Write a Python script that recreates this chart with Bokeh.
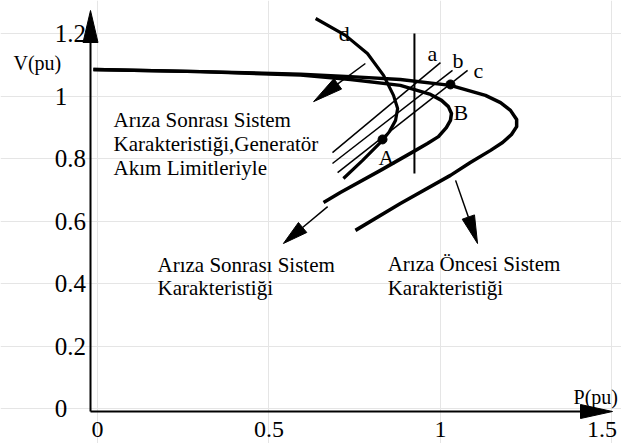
from bokeh.plotting import figure
from bokeh.models import Range1d
from bokeh.core.properties import value
from bokeh.embed import file_html
from bokeh.resources import INLINE
import numpy as np

# ---------------- data (P in pu, V in pu) ----------------
x_ticks = [0, 0.5, 1, 1.5]
x_tick_labels = ["0", "0.5", "1", "1.5"]
y_ticks = [0, 0.2, 0.4, 0.6, 0.8, 1.0, 1.2]
y_tick_labels = ["0", "0.2", "0.4", "0.6", "0.8", "1", "1.2"]

# pre-fault system characteristic (outer nose curve)
pre_p = [-0.012, 0.300, 0.592, 0.738, 0.883, 1.029, 1.131, 1.175, 1.204, 1.222,
         1.222, 1.207, 1.181, 1.146, 1.087, 1.029, 0.883, 0.752]
pre_v = [1.085, 1.078, 1.070, 1.062, 1.053, 1.034, 1.002, 0.979, 0.954, 0.925,
         0.902, 0.877, 0.851, 0.826, 0.787, 0.746, 0.656, 0.570]

# post-fault system characteristic (middle nose curve)
post_p = [-0.012, 0.300, 0.592, 0.738, 0.883, 0.971, 1.003, 1.023, 1.032, 1.029,
          1.017, 0.994, 0.962, 0.921, 0.825, 0.708, 0.659]
post_v = [1.085, 1.078, 1.067, 1.053, 1.034, 1.005, 0.986, 0.966, 0.944, 0.922,
          0.899, 0.870, 0.848, 0.822, 0.762, 0.691, 0.659]

# curve d
d_p = [0.636, 0.723, 0.787, 0.834, 0.863, 0.875, 0.869, 0.851, 0.831, 0.773, 0.717]
d_v = [1.248, 1.194, 1.136, 1.066, 1.002, 0.960, 0.922, 0.886, 0.858, 0.794, 0.736]

# load lines a, b, c (start P, start V, end P, end V)
load_names = ["a", "b", "c"]
load_p0 = [1.000, 1.035, 1.079]
load_v0 = [1.107, 1.082, 1.082]
load_p1 = [0.685, 0.685, 0.700]
load_v1 = [0.819, 0.784, 0.755]

# vertical line (constant P)
vert_p = 0.924
vert_v = [1.200, 0.752]

# operating points
pt_names = ["A", "B"]
pt_p = [0.831, 1.029]
pt_v = [0.861, 1.037]

# ---------------- figure ----------------
X0, X1 = -0.2828, 1.5277
Y0, Y1 = -0.112, 1.3056
W, H = 621, 443
SX = W / (X1 - X0)
SY = H / (Y1 - Y0)

p = figure(width=W, height=H, x_range=Range1d(X0, X1), y_range=Range1d(Y0, Y1),
           output_backend="svg", toolbar_location=None,
           x_axis_location=None, y_axis_location=None, min_border=0)
p.outline_line_color = None
p.background_fill_color = "white"
p.border_fill_color = "white"

FONT = value("'Times New Roman', 'Liberation Serif', 'DejaVu Serif', serif")


def arrow(x0, y0, x1, y1, L, Wd, lw):
    dx = (x1 - x0) * SX
    dy = (y1 - y0) * SY
    n = np.hypot(dx, dy)
    ux, uy = dx / n, dy / n
    bx, by = x1 - L * ux / SX, y1 - L * uy / SY
    nx, ny = -uy, ux
    hx = [x1, bx + Wd / 2 * nx / SX, bx - Wd / 2 * nx / SX]
    hy = [y1, by + Wd / 2 * ny / SY, by - Wd / 2 * ny / SY]
    p.line([x0, bx], [y0, by], line_color="black", line_width=lw)
    p.patch(hx, hy, fill_color="black", line_color="black", line_width=1)


# axes with arrows
ax_p = -0.0204
ax_v = -0.0096
arrow(ax_p, ax_v, ax_p, 1.2736, 32, 15, 2)
arrow(ax_p, ax_v, 1.5015, ax_v, 32, 14, 2)

# tick labels
x_label_shift = [0, 0, 0, -10]
p.text(x=x_ticks, y=[-0.068] * len(x_ticks), text=x_tick_labels,
       x_offset=x_label_shift,
       text_font=FONT, text_font_size="24px", text_align="center",
       text_baseline="middle", text_color="black")
p.text(x=[-0.125] * len(y_ticks), y=y_ticks, text=y_tick_labels,
       text_font=FONT, text_font_size="25px", text_align="left",
       text_baseline="middle", text_color="black")

p.text(x=[-0.245], y=[1.107], text=["V(pu)"], text_font=FONT, text_font_size="20px",
       text_baseline="alphabetic", text_color="black")
p.text(x=[1.388], y=[0.038], text=["P(pu)"], text_font=FONT, text_font_size="20px",
       text_baseline="alphabetic", text_color="black")

# curves
p.line(pre_p, pre_v, line_color="black", line_width=3.5, line_join="round")
p.line(post_p, post_v, line_color="black", line_width=3.5, line_join="round")
p.line(d_p, d_v, line_color="black", line_width=3.2, line_join="round")

# load lines
p.segment(x0=load_p0, y0=load_v0, x1=load_p1, y1=load_v1, line_color="black", line_width=1.5)
p.line([vert_p, vert_p], vert_v, line_color="black", line_width=2)

# points
p.scatter(pt_p, pt_v, size=9, color="black")

# letters
p.text(x=[0.962, 1.035, 1.096, 0.703, 0.819, 1.038],
       y=[1.136, 1.114, 1.082, 1.200, 0.803, 0.947],
       text=load_names + ["d"] + pt_names,
       text_font=FONT, text_font_size="22px", text_baseline="alphabetic",
       text_color="black")

# annotation arrows
arrow(0.781, 1.104, 0.630, 0.982, 30, 13, 1.5)
arrow(0.671, 0.646, 0.542, 0.528, 25, 13, 1.5)
arrow(1.044, 0.730, 1.108, 0.528, 28, 13, 1.5)

# annotation texts
p.text(x=[0.047] * 3, y=[0.922, 0.845, 0.771],
       text=["Arıza Sonrası Sistem", "Karakteristiği,Generatör", "Akım Limitleriyle"],
       text_font=FONT, text_font_size="21px", text_baseline="alphabetic", text_color="black")
p.text(x=[0.175] * 2, y=[0.458, 0.387],
       text=["Arıza Sonrası Sistem", "Karakteristiği"],
       text_font=FONT, text_font_size="21px", text_baseline="alphabetic", text_color="black")
p.text(x=[0.846] * 2, y=[0.464, 0.387],
       text=["Arıza Öncesi Sistem", "Karakteristiği"],
       text_font=FONT, text_font_size="21px", text_baseline="alphabetic", text_color="black")

open("out.html", "w").write(file_html(p, INLINE))
